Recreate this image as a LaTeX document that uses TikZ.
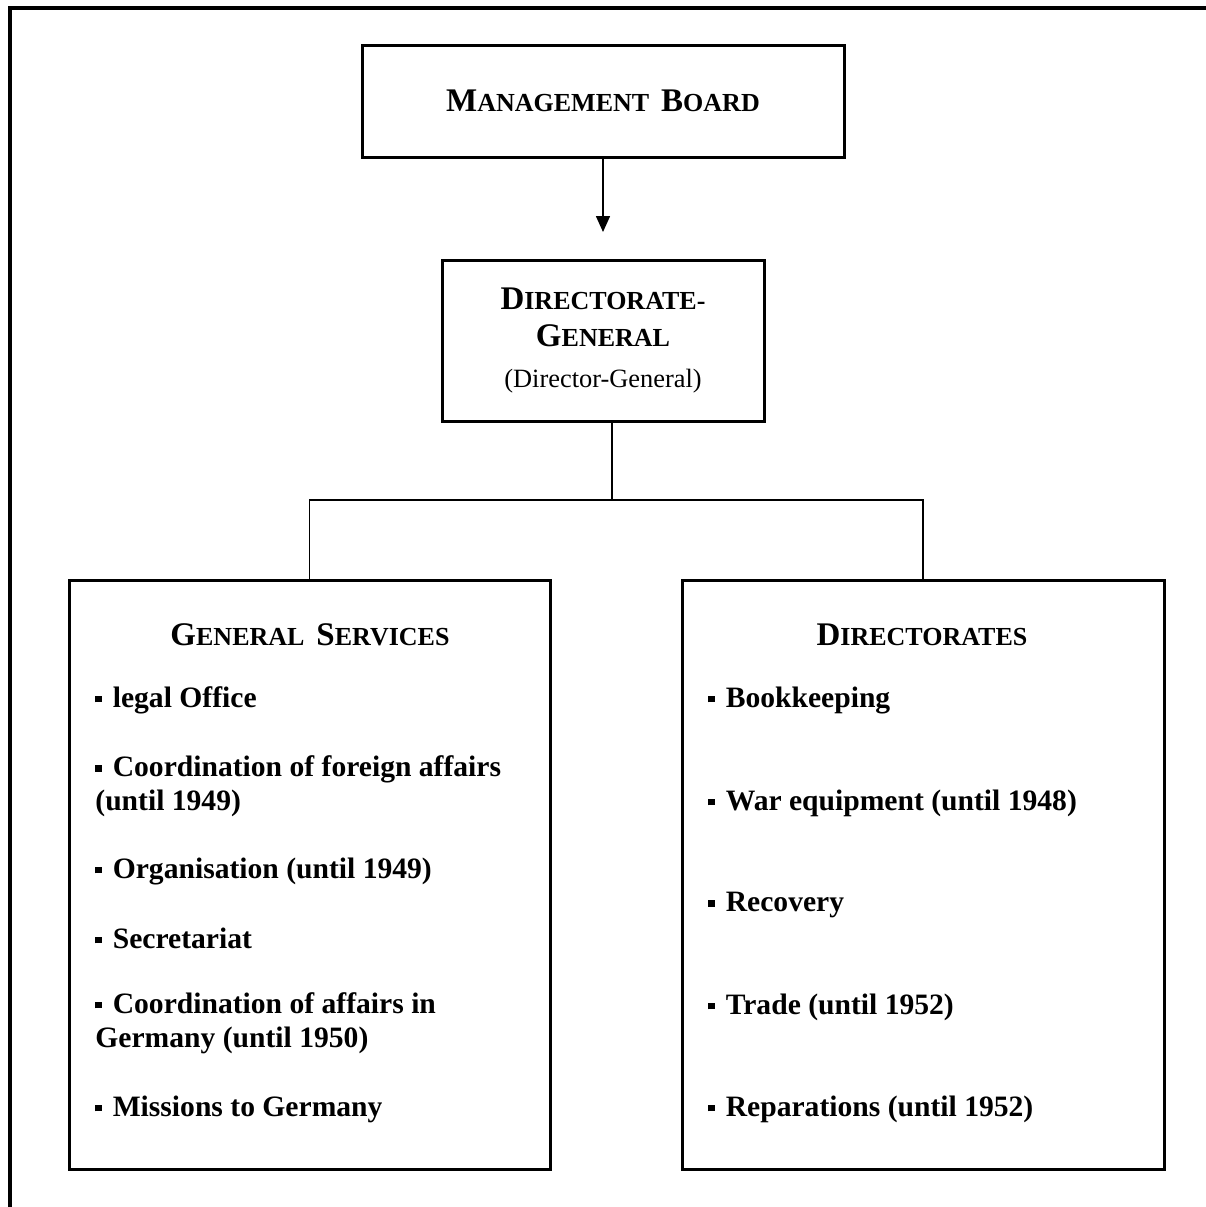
\documentclass[tikz,border=0pt]{standalone}
\usepackage{fontspec}
\setmainfont{Liberation Serif}
\usetikzlibrary{positioning,arrows.meta}

\newcommand{\capsc}[2]{{\fontsize{16.5}{18.5}\selectfont #1}{\fontsize{13}{18.5}\selectfont #2}}
\newcommand{\sqbul}{\rule[0.35ex]{3.2pt}{3.2pt}\hspace{5.5pt}}

\begin{document}
\begin{tikzpicture}[
  x=0.5pt, y=-0.5pt,
  box/.style={draw, line width=1.5pt, inner sep=0pt, align=center,
    font=\fontsize{16}{18.5}\selectfont\bfseries},
  title/.style={inner sep=0pt, font=\bfseries},
  item/.style={anchor=west, inner sep=0pt, align=left,
    font=\fontsize{14.8}{17}\selectfont\bfseries},
  link/.style={line width=0.75pt},
  >={Triangle[width=7pt,length=8pt]}
]
  \useasboundingbox (0,0) rectangle (1206,1207);
  % frame
  \draw[line width=1.75pt] (10,1207) -- (10,8) -- (1206,8);

  \node[box, minimum width=241pt, minimum height=56pt] (board) at (603,101)
    {\capsc{M}{ANAGEMENT}\hspace{6pt}\capsc{B}{OARD}};
  \node[box, minimum width=161pt, minimum height=80.5pt] (dirgen) at (603,340.5)
    {\capsc{D}{IRECTORATE-}\\\capsc{G}{ENERAL}\\[2pt]
     {\mdseries\fontsize{13.2}{14}\selectfont (Director-General)}};
  \node[box, minimum width=240.5pt, minimum height=294.5pt] (gensrv) at (309.5,874.5) {};
  \node[box, minimum width=241pt, minimum height=294.5pt] (dirs) at (923,874.5) {};

  \coordinate (arrowend) at (603,232);
  \coordinate (fork) at (612,500);
  \draw[link,->] (board) -- (arrowend);
  \draw[link] (dirgen.south -| fork) -- (fork);
  \draw[link] (gensrv) |- (fork) -| (dirs);

  % general services
  \node[title] (gstitle) at (310,635) {\capsc{G}{ENERAL}\hspace{6pt}\capsc{S}{ERVICES}};
  \node[item] (legal) at (95,700) {\sqbul legal Office};
  \node[item] (foreign) at (95,786) {\sqbul Coordination of foreign affairs\\(until 1949)};
  \node[item] (organis) at (95,871) {\sqbul Organisation (until 1949)};
  \node[item] (secret) at (95,938) {\sqbul Secretariat};
  \node[item] (germany) at (95,1023) {\sqbul Coordination of affairs in\\Germany (until 1950)};
  \node[item] (missions) at (95,1109) {\sqbul Missions to Germany};

  % directorates
  \node[title] (dirtitle) at (922,635) {\capsc{D}{IRECTORATES}};
  \node[item] (bookkeep) at (708,700) {\sqbul Bookkeeping};
  \node[item] (war) at (708,803) {\sqbul War equipment (until 1948)};
  \node[item] (recovery) at (708,905) {\sqbul Recovery};
  \node[item] (trade) at (708,1007) {\sqbul Trade (until 1952)};
  \node[item] (repar) at (708,1109) {\sqbul Reparations (until 1952)};
\end{tikzpicture}
\end{document}
